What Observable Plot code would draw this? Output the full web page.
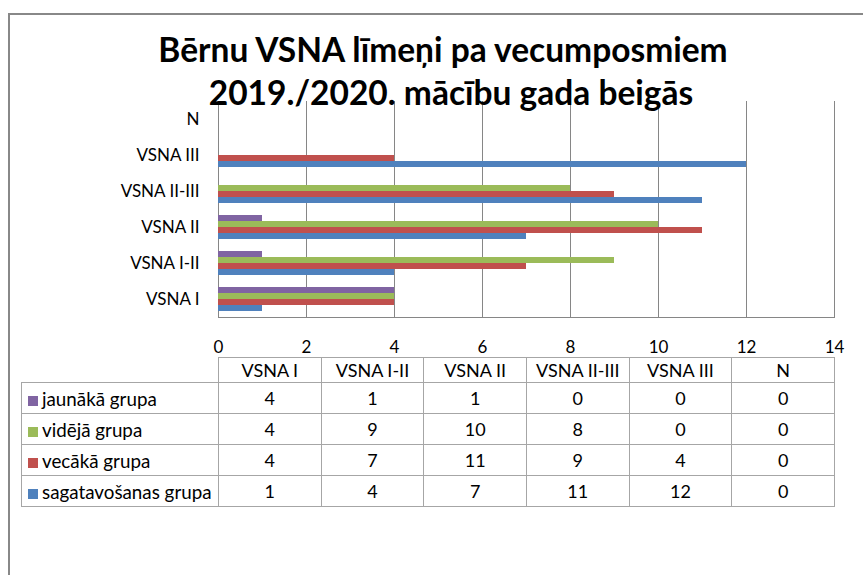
<!DOCTYPE html>
<html>
<head>
<meta charset="utf-8">
<script src="https://cdn.jsdelivr.net/npm/d3@7"></script>
<script src="https://cdn.jsdelivr.net/npm/@observablehq/plot@0.6"></script>
<style>
  html, body { margin: 0; padding: 0; background: #fff; }
  #wrap { position: relative; width: 863px; height: 575px; overflow: hidden; background: #fff; font-family: Lato, "Open Sans", sans-serif; }
  #frame { position: absolute; left: 8px; top: 13px; width: 900px; height: 600px; border-left: 2px solid #888; border-top: 2px solid #888; }
  #title { position: absolute; left: 0; width: 894px; top: 28px; text-align: center; font-weight: 700; font-size: 33.5px; line-height: 43px; color: #000; white-space: nowrap; }
  #title div { display: block; }
  #title div.l1 { margin-right: 8px; }
  #title div.l2 { margin-left: 8px; }
  #chart { position: absolute; left: 0; top: 0; }
  #chart svg text { fill: #000; }
  #tbl { position: absolute; left: 21px; top: 357px; border-collapse: collapse; font-size: 18px; color: #000; table-layout: fixed; }
  #tbl td { border: 1px solid #a6a6a6; padding: 0; text-align: center; white-space: nowrap; }
  #tbl tr.head td { height: 24px; }
  #tbl tr.row td { height: 30px; }
  #tbl td.blank { border-top: none; border-left: none; }
  #tbl td.name { text-align: left; padding-left: 6px; font-size: 18.8px; }
  #tbl .sw { display: inline-block; width: 10px; height: 10px; margin-right: 4px; vertical-align: 0px; }
</style>
</head>
<body>
<div id="wrap">
  <div id="frame"></div>
  <div id="chart"></div>
  <div id="title"></div>
  <table id="tbl"></table>
</div>
<script>
const titleLines = ["Bērnu VSNA līmeņi pa vecumposmiem", "2019./2020. mācību gada beigās"];
const categories = ["VSNA I", "VSNA I-II", "VSNA II", "VSNA II-III", "VSNA III", "N"];
const seriesNames = ["jaunākā grupa", "vidējā grupa", "vecākā grupa", "sagatavošanas grupa"];
const jaunaka = [4, 1, 1, 0, 0, 0];
const videja = [4, 9, 10, 8, 0, 0];
const vecaka = [4, 7, 11, 9, 4, 0];
const sagatavosanas = [1, 4, 7, 11, 12, 0];
const seriesColors = ["#8064A2", "#9BBB59", "#C0504D", "#4F81BD"];
const xTicks = [0, 2, 4, 6, 8, 10, 12, 14];

const seriesValues = [jaunaka, videja, vecaka, sagatavosanas];
const data = seriesNames.flatMap((s, i) =>
  categories.map((c, j) => ({category: c, series: s, value: seriesValues[i][j]})));

// title
const t = document.getElementById("title");
titleLines.forEach((line, i) => { const d = document.createElement("div"); d.className = "l" + (i + 1); d.textContent = line; t.appendChild(d); });

const chart = Plot.plot({
  width: 863,
  height: 360,
  marginLeft: 218,
  marginRight: 29,
  marginTop: 101,
  marginBottom: 43,
  style: {fontFamily: "Lato, sans-serif", fontSize: "17px", color: "#868686", background: "transparent", overflow: "visible"},
  facet: {data: data, y: "category"},
  x: {domain: [0, 14], ticks: xTicks, tickSize: 0, tickPadding: 23, label: null, line: true, tickFormat: d => String(d)},
  fy: {domain: categories.slice().reverse(), padding: 0, label: null, tickSize: 0, tickPadding: 19, axis: "left"},
  y: {domain: seriesNames, axis: null, paddingInner: 0, paddingOuter: 0.81},
  color: {domain: seriesNames, range: seriesColors},
  marks: [
    Plot.ruleX(xTicks, {x: d => d, stroke: "#868686", strokeWidth: 1}),
    Plot.barX(data, {x: "value", y: "series", fill: "series"})
  ]
});
document.getElementById("chart").appendChild(chart);

// data table (legend + values)
const tbl = document.getElementById("tbl");
const colg = document.createElement("colgroup");
const c0 = document.createElement("col"); c0.style.width = "197px"; colg.appendChild(c0);
categories.forEach(() => { const c = document.createElement("col"); c.style.width = "102.67px"; colg.appendChild(c); });
tbl.appendChild(colg);
const head = document.createElement("tr"); head.className = "head";
const blank = document.createElement("td"); blank.className = "blank"; head.appendChild(blank);
categories.forEach(c => { const td = document.createElement("td"); td.textContent = c; head.appendChild(td); });
tbl.appendChild(head);
seriesNames.forEach((s, i) => {
  const tr = document.createElement("tr"); tr.className = "row";
  const name = document.createElement("td"); name.className = "name";
  const sw = document.createElement("span"); sw.className = "sw"; sw.style.background = seriesColors[i];
  name.appendChild(sw); name.appendChild(document.createTextNode(s));
  tr.appendChild(name);
  seriesValues[i].forEach(v => { const td = document.createElement("td"); td.textContent = v; tr.appendChild(td); });
  tbl.appendChild(tr);
});
</script>
</body>
</html>
